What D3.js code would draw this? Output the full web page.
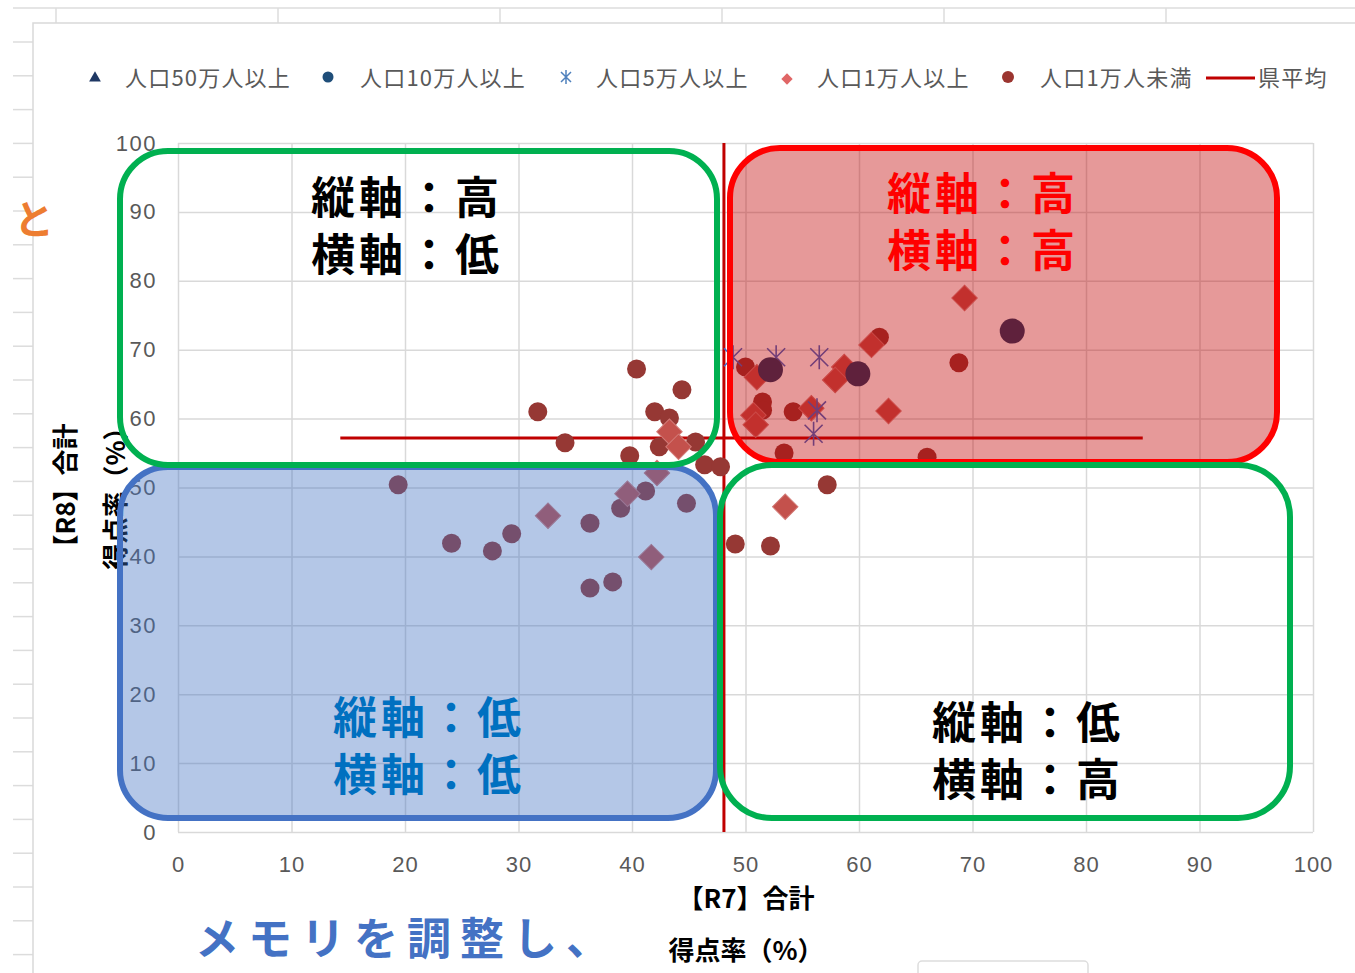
<!DOCTYPE html>
<html>
<head>
<meta charset="utf-8">
<script src="https://cdn.jsdelivr.net/npm/d3@7"></script>
<style>
  html, body { margin: 0; padding: 0; background: #fff; }
  svg { display: block; font-family: 'Noto Sans CJK JP', 'Noto Sans', sans-serif; }
</style>
</head>
<body>
<svg id="canvas" width="1355" height="973"></svg>
<script>
// series: [R7 score %, R8 score %]
var pop50man = [];
var pop10man = [[73.5, 72.7], [59.9, 66.5], [52.2, 67.1]];
var pop5man = [[52.7, 68.9], [56.5, 68.9], [48.9, 68.9], [56.3, 61.2], [56.0, 57.8]];
var pop1man = [[69.3, 77.5], [61.1, 70.7], [58.7, 67.5], [57.9, 65.6], [51.0, 66.0], [50.7, 60.5],
    [50.9, 59.1], [55.8, 61.5], [62.6, 61.1], [53.5, 47.2], [43.3, 58.1], [44.1, 55.9],
    [42.2, 52.1], [39.6, 49.1], [32.6, 45.9], [41.7, 39.9]];
var popUnder1man = [[61.8, 71.8], [68.8, 68.1], [50.0, 67.5], [51.5, 62.4], [51.5, 61.2], [54.2, 61.0],
    [53.4, 55.0], [66.0, 54.4], [57.2, 50.4], [49.1, 41.8], [52.2, 41.5], [46.4, 53.3],
    [47.8, 53.0], [40.4, 67.2], [44.4, 64.2], [31.7, 61.0], [42.0, 61.0], [43.3, 60.1],
    [34.1, 56.5], [42.4, 55.9], [45.6, 56.6], [39.8, 54.6], [19.4, 50.4], [41.2, 49.5],
    [39.0, 47.0], [44.8, 47.7], [36.3, 44.8], [29.4, 43.3], [24.1, 41.9], [27.7, 40.8],
    [36.3, 35.4], [38.3, 36.3]];
var avgX = 48.1;            // 県平均 R7
var avgY = 57.2;            // 県平均 R8
var avgLineXRange = [14.3, 85];
var tickValues = [0, 10, 20, 30, 40, 50, 60, 70, 80, 90, 100];
var legendLabels = ['人口50万人以上', '人口10万人以上', '人口5万人以上', '人口1万人以上', '人口1万人未満', '県平均'];
var xTitle = ['【R7】合計', '得点率（%）'];
var yTitle = ['【R8】合計', '得点率（%）'];
var boxTexts = [
    { lines: ['縦軸：高', '横軸：低'], color: '#000000', x: 311, y: 214 },
    { lines: ['縦軸：高', '横軸：高'], color: '#FF0000', x: 887, y: 210 },
    { lines: ['縦軸：低', '横軸：低'], color: '#0070C0', x: 333, y: 734 },
    { lines: ['縦軸：低', '横軸：高'], color: '#000000', x: 932, y: 739 }
];

var svg = d3.select('#canvas');
var W = 1355, H = 973;

// spreadsheet background
var bg = svg.append('g').attr('stroke', '#dcdcdc').attr('stroke-width', 1.5);
bg.append('line').attr('x1', 13).attr('x2', W).attr('y1', 8).attr('y2', 8);
[56, 278, 500, 722, 944, 1166].forEach(function(cx) {
    bg.append('line').attr('x1', cx).attr('x2', cx).attr('y1', 8).attr('y2', 23);
});
for (var ry = 42; ry < H; ry += 33.8) {
    bg.append('line').attr('x1', 13).attr('x2', 33).attr('y1', ry).attr('y2', ry);
}
svg.append('rect').attr('x', 33).attr('y', 23).attr('width', W).attr('height', H)
    .attr('fill', '#fff').attr('stroke', '#d9d9d9').attr('stroke-width', 1.5);

var x = d3.scaleLinear().domain([0, 100]).range([178, 1313]);
var y = d3.scaleLinear().domain([0, 100]).range([832, 143]);

// gridlines
svg.append('g').attr('transform', 'translate(0,832)')
    .call(d3.axisBottom(x).tickValues(tickValues).tickSize(-(832 - 143)).tickFormat(''))
    .call(function(g) { g.select('.domain').remove(); g.selectAll('line').attr('stroke', '#d9d9d9').attr('stroke-width', 1.5); });
svg.append('g').attr('transform', 'translate(178,0)')
    .call(d3.axisLeft(y).tickValues(tickValues).tickSize(-(1313 - 178)).tickFormat(''))
    .call(function(g) { g.select('.domain').remove(); g.selectAll('line').attr('stroke', '#d9d9d9').attr('stroke-width', 1.5); });

// tick labels
svg.append('g').attr('transform', 'translate(0,832)')
    .call(d3.axisBottom(x).tickValues(tickValues).tickSize(0).tickPadding(24))
    .call(function(g) {
        g.select('.domain').remove();
        g.selectAll('text').attr('fill', '#595959').attr('font-size', 22).attr('letter-spacing', 1)
            .attr('font-family', 'inherit');
    });
svg.append('g').attr('transform', 'translate(178,0)')
    .call(d3.axisLeft(y).tickValues(tickValues).tickSize(0).tickPadding(21))
    .call(function(g) {
        g.select('.domain').remove();
        g.selectAll('text').attr('fill', '#595959').attr('font-size', 22).attr('letter-spacing', 1.5)
            .attr('font-family', 'inherit');
    });

// axis titles
svg.selectAll('.xt').data(xTitle).enter().append('text')
    .attr('x', 746).attr('y', function(d, i) { return 908 + i * 52; })
    .attr('text-anchor', 'middle').attr('font-size', 26).attr('font-weight', 700).attr('fill', '#000')
    .text(function(d) { return d; });
svg.selectAll('.yt').data(yTitle).enter().append('text')
    .attr('transform', function(d, i) { return 'translate(' + (75 + i * 50) + ',492) rotate(-90)'; })
    .attr('text-anchor', 'middle').attr('font-size', 26).attr('font-weight', 700).attr('fill', '#000')
    .text(function(d) { return d; });

// prefecture average lines
svg.append('line').attr('x1', x(avgX)).attr('x2', x(avgX)).attr('y1', y(0)).attr('y2', y(100))
    .attr('stroke', '#C00000').attr('stroke-width', 3);
svg.append('line').attr('x1', x(avgLineXRange[0])).attr('x2', x(avgLineXRange[1]))
    .attr('y1', y(avgY)).attr('y2', y(avgY))
    .attr('stroke', '#C00000').attr('stroke-width', 3);

// markers
var pts = svg.append('g');
pts.selectAll('.u1').data(popUnder1man).enter().append('circle')
    .attr('cx', function(d) { return x(d[0]); }).attr('cy', function(d) { return y(d[1]); })
    .attr('r', 9.5).attr('fill', '#963834');
pts.selectAll('.o1').data(pop1man).enter().append('rect')
    .attr('x', -9).attr('y', -9).attr('width', 18).attr('height', 18)
    .attr('transform', function(d) { return 'translate(' + x(d[0]) + ',' + y(d[1]) + ') rotate(45)'; })
    .attr('fill', '#C4514C').attr('stroke', '#d27a76').attr('stroke-width', 1);
pts.selectAll('.o5').data(pop5man).enter().append('path')
    .attr('transform', function(d) { return 'translate(' + x(d[0]) + ',' + y(d[1]) + ')'; })
    .attr('d', 'M0,-12V12M-9,-9L9,9M-9,9L9,-9')
    .attr('stroke', '#3F68C8').attr('stroke-width', 1.6).attr('fill', 'none');
pts.selectAll('.o10').data(pop10man).enter().append('circle')
    .attr('cx', function(d) { return x(d[0]); }).attr('cy', function(d) { return y(d[1]); })
    .attr('r', 12.5).attr('fill', '#1F3864');
pts.selectAll('.o50').data(pop50man).enter().append('path')
    .attr('transform', function(d) { return 'translate(' + x(d[0]) + ',' + y(d[1]) + ')'; })
    .attr('d', d3.symbol(d3.symbolTriangle, 200)).attr('fill', '#1F3864');

// legend
var lg = svg.append('g').attr('font-size', 22).attr('letter-spacing', 1.2).attr('fill', '#595959');
var legendX = [125, 360, 596, 817, 1040, 1258];
legendLabels.forEach(function(t, i) {
    lg.append('text').attr('x', legendX[i]).attr('y', 86).text(t);
});
lg.append('path').attr('transform', 'translate(95,78)').attr('d', d3.symbol(d3.symbolTriangle, 60)).attr('fill', '#1F3864');
lg.append('circle').attr('cx', 328).attr('cy', 77).attr('r', 5.5).attr('fill', '#1F4E79');
lg.append('path').attr('transform', 'translate(566,77)').attr('d', 'M0,-7V7M-5,-5L5,5M-5,5L5,-5')
    .attr('stroke', '#4F81BD').attr('stroke-width', 1.5);
lg.append('rect').attr('x', -4).attr('y', -4).attr('width', 8).attr('height', 8)
    .attr('transform', 'translate(787,79) rotate(45)').attr('fill', '#E06666');
lg.append('circle').attr('cx', 1008).attr('cy', 77).attr('r', 6).attr('fill', '#9B3530');
lg.append('line').attr('x1', 1206).attr('x2', 1255).attr('y1', 78).attr('y2', 78)
    .attr('stroke', '#C00000').attr('stroke-width', 3);

// quadrant boxes
svg.append('rect').attr('x', 730).attr('y', 148).attr('width', 547).attr('height', 314).attr('rx', 50)
    .attr('fill', 'rgba(192,0,0,0.4)').attr('stroke', '#FF0000').attr('stroke-width', 6);
svg.append('rect').attr('x', 120).attr('y', 467).attr('width', 596).attr('height', 351).attr('rx', 48)
    .attr('fill', 'rgba(68,114,196,0.4)').attr('stroke', '#4472C4').attr('stroke-width', 6);
svg.append('rect').attr('x', 120).attr('y', 151).attr('width', 597).attr('height', 314).attr('rx', 48)
    .attr('fill', 'none').attr('stroke', '#00B050').attr('stroke-width', 6);
svg.append('rect').attr('x', 720).attr('y', 465).attr('width', 570).attr('height', 353).attr('rx', 52)
    .attr('fill', 'none').attr('stroke', '#00B050').attr('stroke-width', 6);

boxTexts.forEach(function(b) {
    b.lines.forEach(function(t, i) {
        svg.append('text').attr('x', b.x).attr('y', b.y + i * 57)
            .attr('font-size', 44).attr('font-weight', 700).attr('letter-spacing', 4).attr('fill', b.color)
            .text(t);
    });
});

// annotation text on the sheet
svg.append('text').attr('x', 14).attr('y', 234).attr('font-size', 40).attr('font-weight', 700)
    .attr('fill', '#ED7D31').text('と');
svg.append('text').attr('x', 195).attr('y', 955).attr('font-size', 44).attr('font-weight', 700)
    .attr('letter-spacing', 9).attr('fill', '#4472C4').text('メモリを調整し、');
svg.append('rect').attr('x', 918).attr('y', 961).attr('width', 170).attr('height', 30).attr('rx', 4)
    .attr('fill', '#fff').attr('stroke', '#dddddd').attr('stroke-width', 1.5);
</script>
</body>
</html>
